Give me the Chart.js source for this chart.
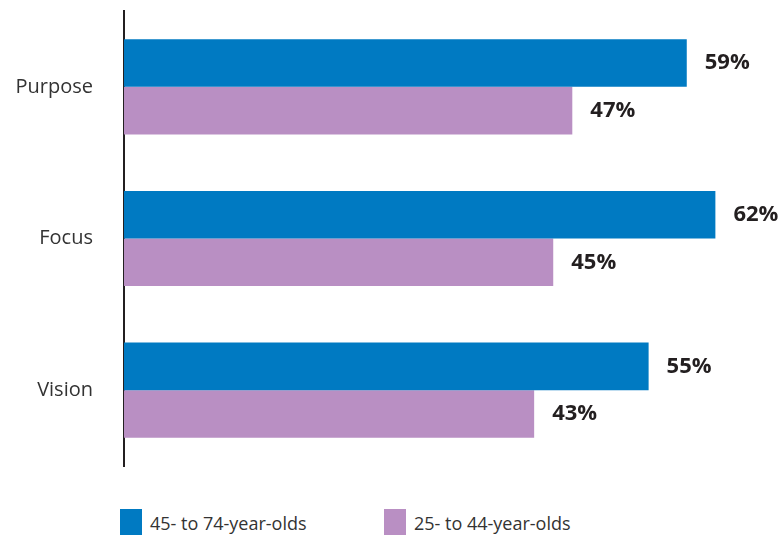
<!DOCTYPE html>
<html>
<head>
<meta charset="utf-8">
<script src="https://cdn.jsdelivr.net/npm/chart.js@4"></script>
<style>
  body { margin: 0; background: #fff; font-family: "Open Sans", sans-serif; }
  #wrap { position: relative; width: 780px; height: 535px; overflow: hidden; }
  #barChart { position: absolute; left: 0; top: 0; }
  .item { position: absolute; top: 509px; display: flex; align-items: center; font-size: 18px; color: #333; }
  .box { width: 22px; height: 28px; margin-right: 8px; }
</style>
</head>
<body>
<div id="wrap">
  <canvas id="barChart" width="780" height="505"></canvas>
</div>
<script>
const categories = ['Purpose', 'Focus', 'Vision'];
const seriesNames = ['45- to 74-year-olds', '25- to 44-year-olds'];
const olderValues = [59, 62, 55];
const youngerValues = [47, 45, 43];
const seriesColors = ['#007ac2', '#b98fc3'];

// value labels at end of each bar
const valueLabels = {
  id: 'valueLabels',
  afterDatasetsDraw(chart) {
    const ctx = chart.ctx;
    ctx.save();
    ctx.font = 'bold 22px "Open Sans", sans-serif';
    ctx.fillStyle = '#231f20';
    ctx.textBaseline = 'middle';
    chart.data.datasets.forEach((ds, i) => {
      chart.getDatasetMeta(i).data.forEach((bar, j) => {
        ctx.fillText(ds.data[j] + '%', bar.x + 18, bar.y);
      });
    });
    ctx.restore();
  }
};

const ctx1 = document.getElementById('barChart');
new Chart(ctx1, {
  type: 'bar',
  data: {
    labels: categories,
    datasets: [
      { label: seriesNames[0], data: olderValues, backgroundColor: seriesColors[0], borderWidth: 0 },
      { label: seriesNames[1], data: youngerValues, backgroundColor: seriesColors[1], borderWidth: 0 }
    ]
  },
  options: {
    indexAxis: 'y',
    responsive: false,
    animation: false,
    categoryPercentage: 0.627,
    barPercentage: 1,
    layout: { padding: { top: 11, right: 36, bottom: 39, left: 0 } },
    scales: {
      x: {
        min: 0,
        max: 65,
        display: false
      },
      y: {
        afterFit(scale) {
          scale.width = 124;
          scale.paddingTop = 0;
          scale.paddingBottom = 0;
        },
        grid: { display: false, drawTicks: false },
        border: { display: true, color: '#231f20', width: 2 },
        ticks: {
          padding: 31,
          color: '#333',
          font: { family: '"Open Sans", sans-serif', size: 20 }
        }
      }
    },
    plugins: {
      legend: { display: false },
      tooltip: { enabled: false }
    }
  },
  plugins: [valueLabels]
});

const wrap = document.getElementById('wrap');
const legendX = [120, 384];
seriesNames.forEach((name, i) => {
  const item = document.createElement('div');
  item.className = 'item';
  item.style.left = legendX[i] + 'px';
  item.innerHTML = '<span class="box" style="background:' + seriesColors[i] + '"></span><span>' + name + '</span>';
  wrap.appendChild(item);
});
</script>
</body>
</html>
